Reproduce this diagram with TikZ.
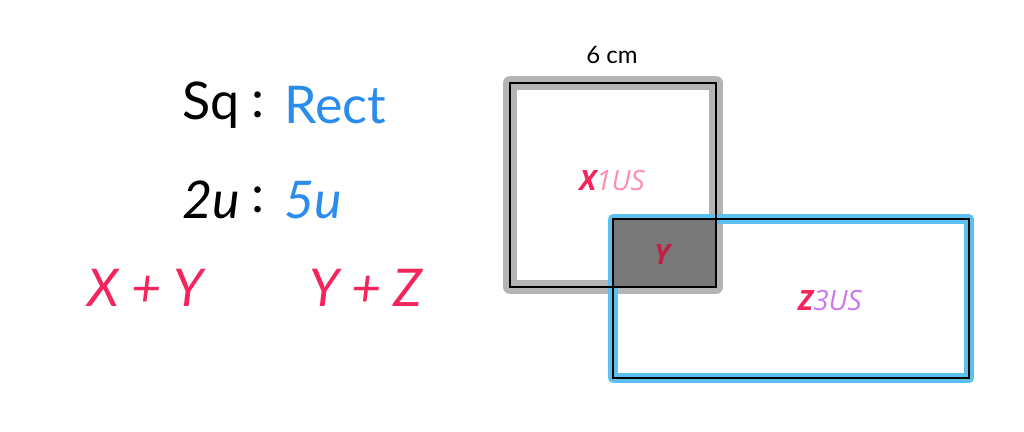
\documentclass[tikz,border=0pt]{standalone}
\usepackage{fontspec}
\setmainfont{Lato}
\newfontfamily\labfont{Open Sans}
\definecolor{ratred}{HTML}{F5245A}
\definecolor{ratblue}{HTML}{2B8CEB}
\definecolor{lightpink}{HTML}{FF8FB0}
\definecolor{lilac}{HTML}{CC77EE}
\definecolor{bandblue}{HTML}{5BC0EE}
\definecolor{bandgray}{HTML}{B4B4B4}
\begin{document}
\begin{tikzpicture}[x=1pt,y=-1pt,
                    big/.style={font=\fontsize{52}{60}\selectfont,inner sep=0pt},
                    lab/.style={font=\labfont\fontsize{28}{32}\selectfont\itshape,inner sep=0pt}]
  \useasboundingbox (0,0) rectangle (1024,431);

  % ratio text
  \node[big,anchor=east]      (sq)   at (240,105) {Sq};
  \node[big]                  (c1)   at (258,105) {:};
  \node[big,anchor=west,text=ratblue] (rect) at (284,105) {Rect};
  \node[big,anchor=east]      (tu)   at (240,200) {$\mathit{2u}$};
  \node[big]                  (c2)   at (258,200) {:};
  \node[big,anchor=west,text=ratblue] (fu) at (284,200) {$\mathit{5u}$};
  \node[big,text=ratred]      (xy)   at (146,288) {\itshape X + Y};
  \node[big,text=ratred]      (yz)   at (366,288) {\itshape Y + Z};

  % shapes
  \draw[bandgray,line width=14pt,line join=round] (510,83) rectangle (716,287);
  \draw[bandblue,line width=10pt,line join=round] (613,219) rectangle (969,378);
  \fill[black!53] (613,219) rectangle (716,287);
  \draw[line width=2.5pt] (510,83) rectangle (716,287);
  \draw[line width=2.5pt] (613,219) rectangle (969,378);

  \node[font=\fontsize{24}{28}\selectfont] (width) at (612,55) {6 cm};
  \node[lab] (xlab) at (612,180) {\textcolor{ratred}{\bfseries X}\textcolor{lightpink}{1US}};
  \node[lab,text=ratred!80!black] (ylab) at (662,255) {\bfseries Y};
  \node[lab] (zlab) at (830,300) {\textcolor{ratred}{\bfseries Z}\textcolor{lilac}{3US}};
\end{tikzpicture}
\end{document}
